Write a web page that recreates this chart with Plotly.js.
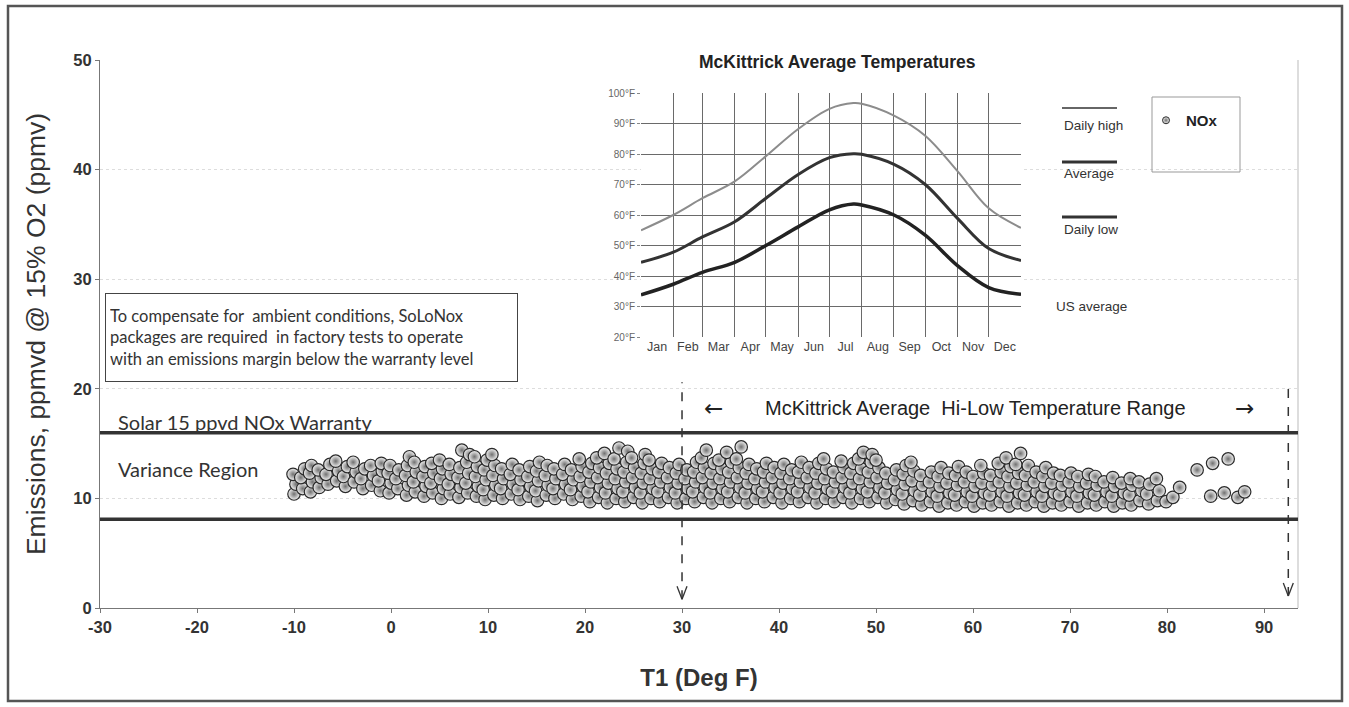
<!DOCTYPE html>
<html>
<head>
<meta charset="utf-8">
<script src="https://cdn.plot.ly/plotly-3.0.1.min.js"></script>
<style>
  html, body { margin: 0; padding: 0; background: #fff; }
  #chart { width: 1349px; height: 707px; }
</style>
</head>
<body>
<div id="chart"></div>
<script>
// ---------------- DATA ----------------
// Main scatter: ambient temperature T1 (deg F) vs NOx emissions (ppmvd @ 15% O2)
const noxT = [
  -10.0,-9.8,-10.1,
  -9.1,-9.3,-8.9,
  -8.3,-8.1,-8.4,-8.2,
  -7.4,-7.2,-7.5,
  -6.5,-6.7,-6.3,
  -5.6,-5.4,-5.7,
  -4.7,-4.9,-4.5,
  -3.8,-3.6,-3.9,
  -2.9,-3.1,-2.7,
  -2.0,-1.8,-2.1,
  -1.1,-1.3,-0.9,-1.0,
  -0.2,0.0,-0.3,-0.1,
  0.7,0.5,0.8,
  1.6,1.8,1.5,1.7,1.9,
  2.5,2.3,2.6,2.4,
  3.4,3.6,3.3,3.5,
  4.3,4.1,4.4,4.2,
  5.2,5.4,5.1,5.3,5.0,
  6.1,5.9,6.2,6.0,
  7.0,7.2,6.9,7.1,7.3,
  7.9,7.7,8.0,7.8,8.1,
  8.8,9.0,8.7,8.9,8.6,
  9.7,9.5,9.8,9.6,9.9,
  10.6,10.8,10.5,10.7,10.4,
  11.5,11.3,11.6,11.4,
  12.4,12.6,12.3,12.5,
  13.3,13.1,13.4,13.2,
  14.2,14.4,14.1,14.3,
  15.1,14.9,15.2,15.0,15.3,
  16.0,16.2,15.9,16.1,
  16.9,16.7,17.0,16.8,
  17.8,18.0,17.7,17.9,
  18.7,18.5,18.8,18.6,
  19.6,19.8,19.5,19.7,19.4,
  20.5,20.3,20.6,20.4,20.7,
  21.4,21.6,21.3,21.5,21.2,
  22.3,22.1,22.4,22.2,22.5,22.0,
  23.2,23.4,23.1,23.3,23.0,23.5,
  24.1,23.9,24.2,24.0,24.3,24.4,
  25.0,25.2,24.9,25.1,24.8,
  25.9,25.7,26.0,25.8,26.1,26.2,
  26.8,27.0,26.7,26.9,26.6,
  27.7,27.5,27.8,27.6,27.9,
  28.6,28.8,28.5,28.7,
  29.5,29.3,29.6,29.4,29.7,
  30.4,30.6,30.3,30.5,
  31.3,31.1,31.4,31.2,31.5,
  32.2,32.4,32.1,32.3,32.0,32.5,
  33.1,32.9,33.2,33.0,33.3,
  34.0,34.2,33.9,34.1,33.8,
  34.9,34.7,35.0,34.8,35.1,34.6,
  35.8,36.0,35.7,35.9,35.6,36.1,
  36.7,36.5,36.8,36.6,36.9,
  37.6,37.8,37.5,37.7,
  38.5,38.3,38.6,38.4,38.7,
  39.4,39.6,39.3,39.5,
  40.3,40.1,40.4,40.2,40.5,
  41.2,41.4,41.1,41.3,
  42.1,41.9,42.2,42.0,42.3,
  43.0,43.2,42.9,43.1,
  43.9,43.7,44.0,43.8,44.1,
  44.8,45.0,44.7,44.9,44.6,
  45.7,45.5,45.8,45.6,
  46.6,46.8,46.5,46.7,46.4,
  47.5,47.3,47.6,47.4,47.7,
  48.4,48.6,48.3,48.5,48.2,48.7,
  49.3,49.1,49.4,49.2,49.5,49.6,
  50.2,50.4,50.1,50.3,50.0,
  51.1,50.9,51.2,51.0,
  52.0,52.2,51.9,52.1,
  52.9,52.7,53.0,52.8,53.1,
  53.8,54.0,53.7,53.9,53.6,
  54.7,54.5,54.8,54.6,
  55.6,55.8,55.5,55.7,
  56.5,56.3,56.6,56.4,56.7,
  57.4,57.6,57.3,57.5,
  58.3,58.1,58.4,58.2,58.5,
  59.2,59.4,59.1,59.3,
  60.1,59.9,60.2,60.0,
  61.0,61.2,60.9,61.1,60.8,
  61.9,61.7,62.0,61.8,
  62.8,63.0,62.7,62.9,62.6,
  63.7,63.5,63.8,63.6,63.9,63.4,
  64.6,64.8,64.5,64.7,64.4,64.9,
  65.5,65.3,65.6,65.4,65.7,
  66.4,66.6,66.3,66.5,
  67.3,67.1,67.4,67.2,67.5,
  68.2,68.4,68.1,68.3,
  69.1,68.9,69.2,69.0,
  70.0,70.2,69.9,70.1,
  70.9,70.7,71.0,70.8,
  71.8,72.0,71.7,71.9,
  72.7,72.5,72.8,72.6,
  73.6,73.8,73.5,
  74.5,74.3,74.6,74.4,
  75.4,75.6,75.3,
  76.3,76.1,76.4,76.2,
  77.2,77.4,77.1,
  78.1,77.9,78.2,
  79.0,79.2,78.9,
  79.9,80.6,81.3,83.1,84.7,86.3,84.5,85.9,87.3,88.0
];
const noxE = [
  10.4,11.3,12.2,
  10.9,11.9,12.7,
  10.6,11.5,12.3,13.0,
  11.0,11.9,12.6,
  11.3,12.2,13.1,
  11.6,12.5,13.4,
  11.1,12.0,12.9,
  11.5,12.4,13.3,
  10.9,11.8,12.7,
  11.2,12.1,13.0,
  10.7,11.6,12.5,13.2,
  10.5,11.4,12.3,13.0,
  10.9,11.8,12.6,
  10.3,11.2,12.1,13.0,13.8,
  10.6,11.5,12.4,13.3,
  10.2,11.1,12.0,12.9,
  10.5,11.4,12.3,13.2,
  10.0,10.9,11.8,12.7,13.5,
  10.4,11.3,12.2,13.1,
  10.1,11.0,11.9,12.8,14.4,
  10.5,11.4,12.3,13.3,14.0,
  10.2,11.1,12.0,12.9,13.8,
  9.9,10.8,11.7,12.6,13.5,
  10.3,11.2,12.1,13.0,14.0,
  10.0,10.9,11.8,12.7,
  10.4,11.3,12.2,13.1,
  9.9,10.8,11.7,12.6,
  10.2,11.1,12.0,12.9,
  9.8,10.7,11.6,12.5,13.3,
  10.3,11.2,12.1,13.0,
  10.0,10.9,11.8,12.7,
  10.4,11.3,12.2,13.1,
  9.9,10.8,11.7,12.6,
  10.2,11.1,12.0,12.9,13.6,
  9.7,10.6,11.5,12.4,13.2,
  10.1,11.0,11.9,12.8,13.7,
  9.6,10.5,11.4,12.3,13.2,14.1,
  10.0,10.9,11.8,12.7,13.6,14.6,
  9.7,10.6,11.5,12.4,13.3,14.3,
  10.1,11.0,11.9,12.8,13.7,
  9.6,10.5,11.4,12.3,13.2,14.0,
  10.0,10.9,11.8,12.7,13.5,
  9.7,10.6,11.5,12.4,13.2,
  10.1,11.0,11.9,12.8,
  9.6,10.5,11.4,12.3,13.1,
  10.0,10.9,11.8,12.6,
  9.7,10.6,11.5,12.4,13.3,
  10.1,11.0,11.9,12.8,13.7,14.4,
  9.6,10.5,11.4,12.3,13.2,
  10.0,10.9,11.8,12.7,13.5,
  9.7,10.6,11.5,12.4,13.3,14.2,
  10.1,11.0,11.9,12.8,13.6,14.7,
  9.6,10.5,11.4,12.3,13.1,
  10.0,10.9,11.8,12.7,
  9.7,10.6,11.5,12.4,13.2,
  10.1,11.0,11.9,12.8,
  9.6,10.5,11.4,12.3,13.1,
  10.0,10.9,11.8,12.6,
  9.7,10.6,11.5,12.4,13.3,
  10.1,11.0,11.9,12.8,
  9.6,10.5,11.4,12.3,13.2,
  10.0,10.9,11.8,12.7,13.6,
  9.7,10.6,11.5,12.4,
  10.1,11.0,11.9,12.8,13.4,
  9.6,10.5,11.4,12.3,13.2,
  10.0,10.9,11.8,12.7,13.6,14.2,
  9.7,10.6,11.5,12.4,13.3,14.0,
  10.1,11.0,11.9,12.8,13.5,
  9.6,10.5,11.4,12.3,
  9.9,10.8,11.7,12.6,
  9.5,10.4,11.3,12.2,13.0,
  9.8,10.7,11.6,12.5,13.3,
  9.4,10.3,11.2,12.1,
  9.7,10.6,11.5,12.4,
  9.3,10.2,11.1,12.0,12.8,
  9.6,10.5,11.4,12.3,
  9.4,10.3,11.2,12.1,12.9,
  9.7,10.6,11.5,12.4,
  9.3,10.2,11.1,12.0,
  9.6,10.5,11.4,12.3,13.0,
  9.4,10.3,11.2,12.1,
  9.7,10.6,11.5,12.4,13.2,
  9.3,10.2,11.1,12.0,12.9,13.7,
  9.6,10.5,11.4,12.3,13.1,14.1,
  9.4,10.3,11.2,12.1,13.0,
  9.7,10.6,11.5,12.4,
  9.3,10.2,11.1,12.0,12.8,
  9.6,10.5,11.4,12.3,
  9.4,10.3,11.2,12.1,
  9.7,10.6,11.5,12.3,
  9.3,10.2,11.1,12.0,
  9.6,10.5,11.4,12.2,
  9.4,10.3,11.2,12.0,
  9.7,10.6,11.5,
  9.3,10.2,11.1,11.9,
  9.6,10.5,11.4,
  9.4,10.3,11.2,11.8,
  9.8,10.7,11.5,
  9.5,10.4,11.3,
  9.8,10.7,11.8,
  9.7,10.1,11.0,12.6,13.2,13.6,10.2,10.5,10.1,10.6
];

// Reference levels (ppmvd): warranty line and lower variance bound
const warrantyLevel = 16.0;
const lowerBound = 8.1;
// Temperature range markers (deg F)
const rangeLow = 30;
const rangeHigh = 92.5;

// Inset: McKittrick average temperatures
const monthDates = ['2021-01-01','2021-02-01','2021-03-01','2021-04-01','2021-05-01','2021-06-01',
                    '2021-07-01','2021-07-24','2021-08-01','2021-09-01','2021-10-01','2021-11-01',
                    '2021-12-01','2022-01-01'];
const tempHigh = [55.0,60.0,65.5,71.0,79.3,88.2,94.8,96.7,96.5,92.6,86.0,74.4,62.2,55.8];
const tempAvg  = [44.5,47.8,52.8,57.8,65.5,73.3,78.8,80.1,79.9,76.6,70.0,58.9,49.0,45.1];
const tempLow  = [33.8,37.3,41.2,44.5,50.0,56.1,61.7,63.6,63.3,60.0,53.4,43.4,36.2,34.0];
const insetTicks = [20,30,40,50,60,70,80,90,100];
const insetTickText = ['20°F','30°F','40°F','50°F','60°F','70°F','80°F','90°F','100°F'];
const mainYTicks = [0,10,20,30,40,50];
const mainXTicks = [-30,-20,-10,0,10,20,30,40,50,60,70,80,90];
const mainXTickText = ['-30','-20','-10','0','10','20','30','40','50','60','70','80','90'];

// ---------------- LAYOUT HELPERS ----------------
const PL = 100, PR = 1298, PT = 60, PB = 608;
function px(x) { return (x - PL) / (PR - PL); }
function py(y) { return (PB - y) / (PB - PT); }

const ARIAL = 'Liberation Sans, Arial, sans-serif';
const CAL = 'Lato, Open Sans, sans-serif';

const markerStyle = {
  symbol: 'circle',
  size: 12.5,
  color: '#f4f4f4',
  gradient: { type: 'radial', color: '#707070' },
  line: { color: '#2a2a2a', width: 1.2 }
};

const traces = [
  {
    type: 'scatter', mode: 'markers', name: 'NOx',
    x: noxT, y: noxE, xaxis: 'x', yaxis: 'y',
    marker: markerStyle, showlegend: false, hoverinfo: 'x+y'
  },
  {
    type: 'scatter', mode: 'markers', name: 'NOx',
    x: [null], y: [null], xaxis: 'x', yaxis: 'y',
    marker: Object.assign({}, markerStyle, { size: 7, line: { color: '#2a2a2a', width: 1 } }),
    showlegend: true
  },
  {
    type: 'scatter', mode: 'lines', name: 'Daily high',
    x: monthDates, y: tempHigh, xaxis: 'x2', yaxis: 'y2',
    line: { color: '#8c8c8c', width: 2, shape: 'spline', smoothing: 1 }, showlegend: false
  },
  {
    type: 'scatter', mode: 'lines', name: 'Average',
    x: monthDates, y: tempAvg, xaxis: 'x2', yaxis: 'y2',
    line: { color: '#333333', width: 3, shape: 'spline', smoothing: 1 }, showlegend: false
  },
  {
    type: 'scatter', mode: 'lines', name: 'Daily low',
    x: monthDates, y: tempLow, xaxis: 'x2', yaxis: 'y2',
    line: { color: '#222222', width: 3.5, shape: 'spline', smoothing: 1 }, showlegend: false
  }
];

function vArrow(xv, yTip, yTop) {
  return [
    { type: 'line', xref: 'x', yref: 'y', x0: xv, x1: xv, y0: yTip, y1: yTop,
      line: { color: '#333', width: 1.5, dash: 'dash' } },
    { type: 'line', xref: 'x', yref: 'y', xsizemode: 'pixel', xanchor: xv, x0: -5, x1: 0,
      ysizemode: 'pixel', yanchor: yTip, y0: 13, y1: 0, line: { color: '#333', width: 1.3 } },
    { type: 'line', xref: 'x', yref: 'y', xsizemode: 'pixel', xanchor: xv, x0: 5, x1: 0,
      ysizemode: 'pixel', yanchor: yTip, y0: 13, y1: 0, line: { color: '#333', width: 1.3 } }
  ];
}

const shapes = [
  // outer frame
  { type: 'rect', xref: 'paper', yref: 'paper', x0: px(8), x1: px(1342), y0: py(701), y1: py(6),
    line: { color: '#555', width: 2.5 }, layer: 'above' },
  // right plot border (light)
  { type: 'line', xref: 'paper', yref: 'paper', x0: 1, x1: 1, y0: 0, y1: 1,
    line: { color: '#bbb', width: 1 } },
  // warranty & lower bound lines
  { type: 'line', xref: 'paper', yref: 'y', x0: 0, x1: 1, y0: warrantyLevel, y1: warrantyLevel,
    line: { color: '#333', width: 3.5 } },
  { type: 'line', xref: 'paper', yref: 'y', x0: 0, x1: 1, y0: lowerBound, y1: lowerBound,
    line: { color: '#333', width: 3.5 } },
  // legend box
  { type: 'rect', xref: 'paper', yref: 'paper', x0: px(1152), x1: px(1240), y0: py(172), y1: py(97),
    line: { color: '#999', width: 1 }, fillcolor: 'rgba(0,0,0,0)' },
  // inset legend lines
  { type: 'line', xref: 'paper', yref: 'paper', x0: px(1062), x1: px(1117), y0: py(108), y1: py(108),
    line: { color: '#666', width: 2 } },
  { type: 'line', xref: 'paper', yref: 'paper', x0: px(1062), x1: px(1117), y0: py(162), y1: py(162),
    line: { color: '#333', width: 3 } },
  { type: 'line', xref: 'paper', yref: 'paper', x0: px(1062), x1: px(1117), y0: py(217), y1: py(217),
    line: { color: '#333', width: 3 } }
].concat(vArrow(rangeLow, 0.8, 20.6), vArrow(rangeHigh, 1.1, 20.6));

function note(text, xp, yp, anchor, size, fam, color, extra) {
  return Object.assign({
    text: text, xref: 'paper', yref: 'paper', x: px(xp), y: py(yp),
    xanchor: anchor, yanchor: 'middle', showarrow: false,
    font: { family: fam, size: size, color: color }
  }, extra || {});
}

const annotations = [
  note('McKittrick Average Temperatures', 837, 62, 'center', 17.5, ARIAL, '#222',
       { font: { family: ARIAL, size: 17.5, color: '#222', weight: 'bold' } }),
  note('Daily high', 1062, 125, 'left', 13.5, ARIAL, '#333'),
  note('Average', 1062, 173, 'left', 13.5, ARIAL, '#333'),
  note('Daily low', 1062, 229, 'left', 13.5, ARIAL, '#333'),
  note('US average', 1054, 306, 'left', 13.5, ARIAL, '#333'),
  {
    text: 'To compensate for  ambient conditions, SoLoNox<br>packages are required  in factory tests to operate<br>with an emissions margin below the warranty level',
    xref: 'paper', yref: 'paper', x: px(105), y: py(293), xanchor: 'left', yanchor: 'top',
    align: 'left', showarrow: false, width: 403, height: 79, valign: 'middle',
    bordercolor: '#444', borderwidth: 1, borderpad: 4, bgcolor: '#fff',
    font: { family: CAL, size: 16.5, color: '#333' }
  },
  note('Solar 15 ppvd NOx Warranty', 116, 422, 'left', 20, CAL, '#333'),
  note('Variance Region', 116, 469, 'left', 20, CAL, '#333'),
  note('←', 713, 408, 'center', 23, 'DejaVu Sans, sans-serif', '#222'),
  note('McKittrick Average  Hi-Low Temperature Range', 975, 408, 'center', 20, ARIAL, '#222'),
  note('→', 1244, 408, 'center', 23, 'DejaVu Sans, sans-serif', '#222')
];

const layout = {
  width: 1349, height: 707,
  margin: { l: PL, r: 1349 - PR, t: PT, b: 707 - PB, pad: 0 },
  paper_bgcolor: '#fff', plot_bgcolor: '#fff',
  showlegend: true,
  legend: {
    x: px(1146), y: py(104), xanchor: 'left', yanchor: 'top',
    bgcolor: 'rgba(0,0,0,0)', borderwidth: 0,
    font: { family: ARIAL, size: 15, color: '#222', weight: 'bold' },
    itemwidth: 30
  },
  xaxis: {
    domain: [0, 1], range: [-30, 93.5], tickvals: mainXTicks, ticktext: mainXTickText,
    showline: true, linecolor: '#777', linewidth: 1, mirror: false,
    ticks: 'outside', ticklen: 4, tickcolor: '#777',
    showgrid: false, zeroline: false,
    tickfont: { family: ARIAL, size: 16.5, color: '#333', weight: 'bold' },
    title: { text: 'T1 (Deg F)', standoff: 34, font: { family: ARIAL, size: 24, color: '#333', weight: 'bold' } },
    automargin: false
  },
  yaxis: {
    domain: [0, 1], range: [0, 50], tickvals: mainYTicks,
    showline: true, linecolor: '#777', linewidth: 1,
    ticks: 'outside', ticklen: 4, tickcolor: '#777',
    showgrid: true, gridcolor: '#dddddd', griddash: 'dot', gridwidth: 1, zeroline: false,
    tickfont: { family: ARIAL, size: 16.5, color: '#333', weight: 'bold' },
    title: { text: 'Emissions, ppmvd @ 15% O2 (ppmv)', standoff: 20, font: { family: ARIAL, size: 26.5, color: '#333' } },
    automargin: false
  },
  xaxis2: {
    domain: [px(641), px(1021)], anchor: 'y2', type: 'date',
    range: ['2021-01-01', '2022-01-01'], dtick: 'M1', tick0: '2021-01-01',
    tickformat: '%b', ticklabelmode: 'period',
    showgrid: true, gridcolor: '#6a6a6a', gridwidth: 1,
    showline: false, ticks: '', zeroline: false,
    tickfont: { family: ARIAL, size: 12.5, color: '#444' }
  },
  yaxis2: {
    domain: [py(337), py(93)], anchor: 'x2', range: [20, 100],
    tickvals: insetTicks, ticktext: insetTickText,
    showgrid: true, gridcolor: '#6a6a6a', gridwidth: 1,
    showline: false, ticks: 'outside', ticklen: 3, tickcolor: '#888', zeroline: false,
    tickfont: { family: ARIAL, size: 10, color: '#666' }
  },
  shapes: shapes,
  annotations: annotations
};

Plotly.newPlot('chart', traces, layout, { displayModeBar: false, staticPlot: true });
</script>
</body>
</html>
